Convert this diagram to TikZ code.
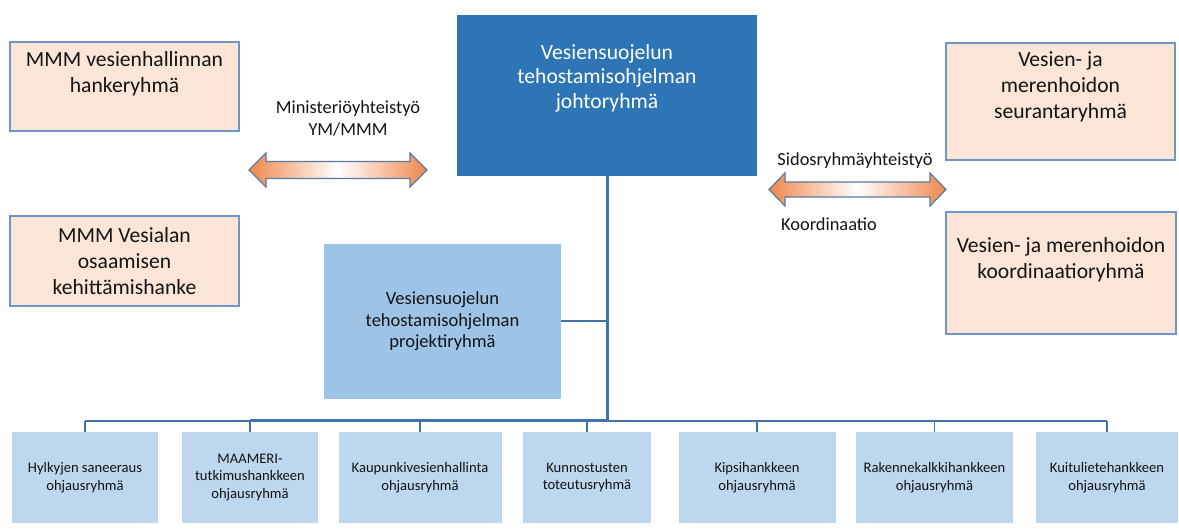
\documentclass[tikz,border=0pt]{standalone}
\usepackage{fontspec}
\setmainfont{Carlito}
\definecolor{peachf}{RGB}{251,229,214}
\definecolor{peachb}{RGB}{112,150,200}
\definecolor{darkf}{RGB}{46,117,182}
\definecolor{projf}{RGB}{157,195,230}
\definecolor{subf}{RGB}{189,215,238}
\definecolor{linec}{RGB}{68,114,170}
\definecolor{arrowb}{RGB}{90,122,165}
\definecolor{arroworange}{RGB}{238,136,76}
\definecolor{txt}{RGB}{20,20,20}
\tikzset{
  peachbox/.style={rectangle, draw=peachb, line width=1.6pt, fill=peachf, inner sep=0pt},
  bigtxt/.style={align=center, font=\fontsize{21.6}{26}\selectfont, text=txt, inner sep=0pt},
  midtxt/.style={align=center, font=\fontsize{18.4}{22}\selectfont, text=txt, inner sep=0pt},
  subbox/.style={rectangle, fill=subf, minimum height=91, inner sep=2pt, align=center,
                 font=\fontsize{14.6}{17.5}\selectfont, text=txt},
  link/.style={draw=linec, line width=1.5pt},
  thicklink/.style={draw=linec, line width=3pt},
  twoway/.style={draw=arrowb, line width=1.2pt, left color=arroworange, right color=arroworange, middle color=white},
}
\begin{document}
\begin{tikzpicture}[x=1pt,y=-1pt]
\useasboundingbox[fill=white] (0,0) rectangle (1179,529);

% left peach boxes
\node[peachbox, minimum width=229, minimum height=89] (mmm1) at (124.5,86.5) {};
\node[bigtxt] (mmm1t) at (124.5,74) {MMM vesienhallinnan\\hankeryhmä};
\node[peachbox, minimum width=229, minimum height=90, bigtxt] (mmm2) at (124.5,261) {MMM Vesialan\\osaamisen\\kehittämishanke};

% right peach boxes
\node[peachbox, minimum width=229, minimum height=117] (seur) at (1060.5,101.5) {};
\node[bigtxt] (seurt) at (1060.5,87) {Vesien- ja\\merenhoidon\\seurantaryhmä};
\node[peachbox, minimum width=230, minimum height=122] (koord) at (1061,273) {};
\node[bigtxt] (koordt) at (1061,260) {Vesien- ja merenhoidon\\koordinaatioryhmä};

% top dark box
\node[rectangle, fill=darkf, minimum width=300, minimum height=161, inner sep=0pt] (top) at (607,95.5) {};
\node[align=center, font=\fontsize{21.6}{24.5}\selectfont, text=white, inner sep=0pt] (topt) at (607,78) {Vesiensuojelun\\tehostamisohjelman\\johtoryhmä};

% project box
\node[rectangle, fill=projf, minimum width=237, minimum height=155, inner sep=0pt, align=center,
      font=\fontsize{18.5}{21.5}\selectfont, text=txt] (proj) at (442.5,321.5) {Vesiensuojelun\\tehostamisohjelman\\projektiryhmä};

% bottom boxes
\node[subbox, minimum width=146] (b1) at (85,477.5) {Hylkyjen saneeraus\\ohjausryhmä};
\node[subbox, minimum width=136] (b2) at (250,477.5) {MAAMERI-\\tutkimushankkeen\\ohjausryhmä};
\node[subbox, minimum width=163] (b3) at (420,477.5) {Kaupunkivesienhallinta\\ohjausryhmä};
\node[subbox, minimum width=128] (b4) at (587,477.5) {Kunnostusten\\toteutusryhmä};
\node[subbox, minimum width=157] (b5) at (757,477.5) {Kipsihankkeen\\ohjausryhmä};
\node[subbox, minimum width=157] (b6) at (934.5,477.5) {Rakennekalkkihankkeen\\ohjausryhmä};
\node[subbox, minimum width=142] (b7) at (1107,477.5) {Kuitulietehankkeen\\ohjausryhmä};

% connectors
\coordinate (j) at (607,421);
\draw[link] (b1.north |- j) -- (b7.north |- j);
\draw[thicklink] (b2.north |- j) -- (j);
\draw[thicklink] (top.south) -- (j);
\draw[link, line width=2pt] (proj.east) -- (proj.east -| top.south);
\foreach \b in {b1,b2,b3,b4,b5,b6,b7}{
  \draw[link] (\b.north |- j) -- (\b.north);
}

% double arrows
\shade[twoway] (249,170) -- (266,153) -- (266,161.5) -- (410,161.5) -- (410,153) -- (427,170)
  -- (410,187) -- (410,178.5) -- (266,178.5) -- (266,187) -- cycle;
\shade[twoway] (769,189.5) -- (785,173) -- (785,182) -- (930,182) -- (930,173) -- (946,189.5)
  -- (930,206) -- (930,197) -- (785,197) -- (785,206) -- cycle;

% labels
\node[midtxt] (minl) at (348,119) {Ministeriöyhteistyö\\YM/MMM};
\node[midtxt] (sidl) at (855,161) {Sidosryhmäyhteistyö};
\node[midtxt] (kool) at (829,224) {Koordinaatio};
\end{tikzpicture}
\end{document}
